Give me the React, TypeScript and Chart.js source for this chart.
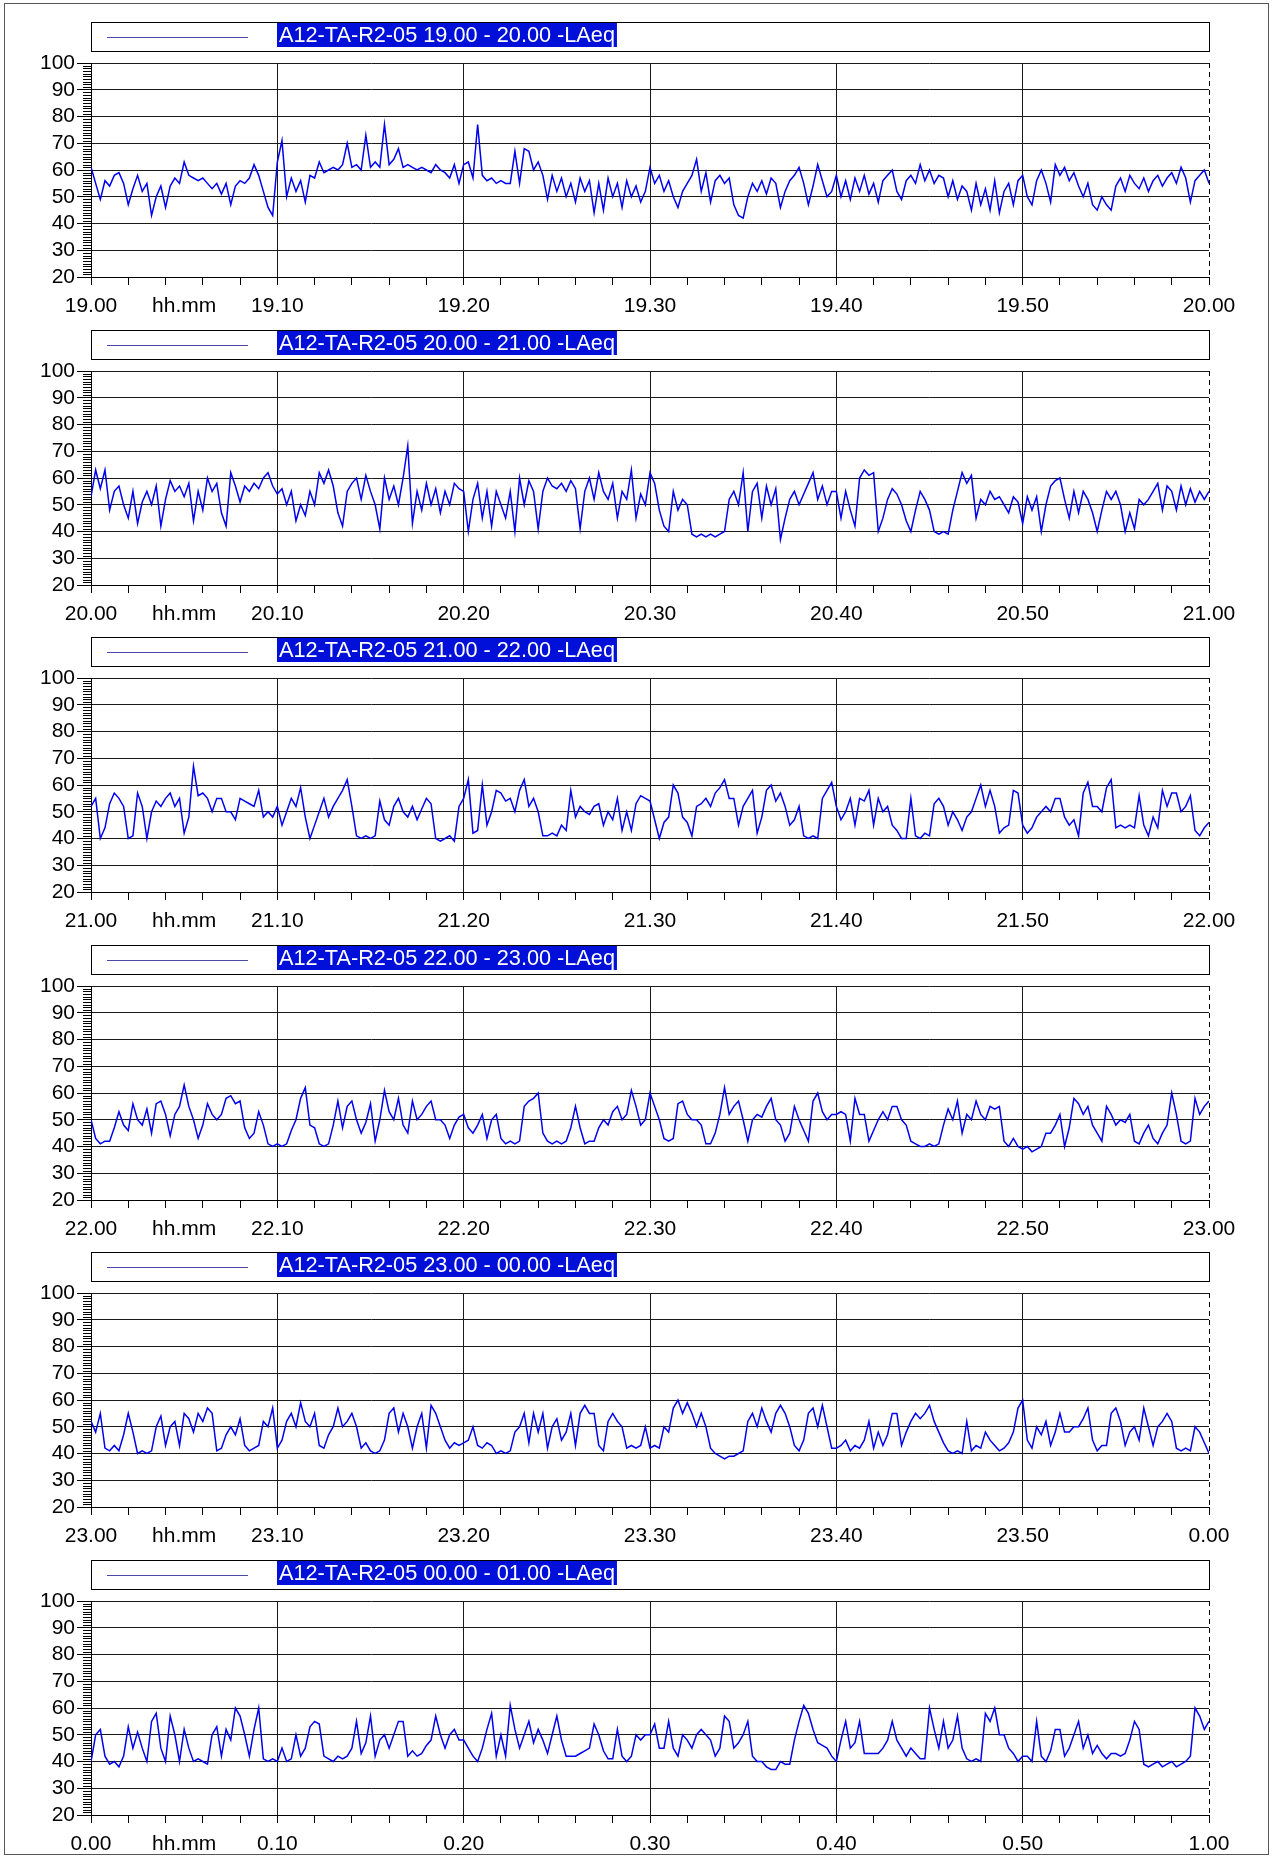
import React, { useEffect, useRef } from 'react';
import { Chart, registerables } from 'chart.js';

Chart.register(...registerables);

// ---- data: LAeq values (dB) sampled every 15 s, one array per hour ----
const SAMPLE_MINUTES = 0.25;
const startHours = [19, 20, 21, 22, 23, 0];
const seriesTitles = [
  'A12-TA-R2-05 19.00 - 20.00 -LAeq',
  'A12-TA-R2-05 20.00 - 21.00 -LAeq',
  'A12-TA-R2-05 21.00 - 22.00 -LAeq',
  'A12-TA-R2-05 22.00 - 23.00 -LAeq',
  'A12-TA-R2-05 23.00 - 00.00 -LAeq',
  'A12-TA-R2-05 00.00 - 01.00 -LAeq',
];
const xTickMinutes = [0, 2, 4, 5, 6, 8, 10, 12, 14, 16, 18, 20, 22, 24, 26, 28, 30, 32, 34, 36, 38, 40, 42, 44, 46, 48, 50, 52, 54, 56, 58, 60];
const hhmmLabelMinute = 5;
const yTickValues = [20, 30, 40, 50, 60, 70, 80, 90, 100];
const yMin = 20;
const yMax = 100;

const laeq1900 = [
  61, 55, 49, 56, 54, 58, 59, 55, 47, 53, 58, 52, 55, 43, 50, 54, 46, 54, 57, 55, 63, 58, 57, 56, 57, 55, 53, 55, 51, 55, 47, 54, 56, 55, 57, 62, 58, 52, 46, 43,
  63, 71, 50, 57, 52, 56, 48, 58, 57, 63, 59, 60, 61, 60, 62, 70, 61, 62, 60, 73, 61, 63, 61, 77, 62, 64, 68, 61, 62, 61, 60, 61, 60, 59, 62, 60, 59, 57, 62, 55,
  62, 63, 57, 77, 58, 56, 57, 55, 56, 55, 55, 67, 55, 68, 67, 60, 63, 58, 49, 58, 52, 57, 50, 55, 48, 57, 52, 56, 44, 55, 45, 57, 50, 55, 46, 56, 50, 54, 48, 52,
  61, 55, 58, 52, 56, 50, 46, 52, 55, 58, 64, 52, 59, 48, 56, 58, 55, 57, 47, 43, 42, 50, 55, 52, 56, 51, 57, 55, 46, 52, 56, 58, 61, 55, 47, 54, 62, 56, 50, 52,
  58, 50, 56, 49, 57, 52, 58, 51, 55, 48, 56, 58, 60, 52, 49, 56, 58, 55, 62, 56, 60, 55, 58, 57, 50, 56, 49, 54, 52, 45, 55, 47, 53, 45, 56, 44, 52, 55, 47, 56,
  58, 50, 47, 56, 60, 55, 48, 62, 58, 61, 56, 59, 54, 50, 55, 47, 45, 50, 47, 45, 54, 57, 52, 58, 55, 53, 57, 52, 56, 58, 54, 57, 59, 55, 61, 57, 48, 56, 58, 60,
  55,
];

const laeq2000 = [
  53, 63, 56, 63, 48, 55, 57, 50, 45, 55, 43, 51, 55, 50, 57, 42, 52, 59, 55, 57, 53, 58, 44, 55, 48, 60, 55, 58, 47, 42, 62, 57, 51, 57, 55, 58, 56, 60, 62, 57,
  54, 56, 50, 55, 44, 50, 46, 55, 50, 62, 58, 63, 57, 47, 42, 55, 58, 60, 52, 61, 55, 50, 41, 60, 52, 57, 50, 60, 72, 43, 55, 48, 58, 50, 56, 47, 55, 50, 58, 56,
  55, 40, 52, 58, 45, 55, 42, 55, 50, 45, 55, 40, 60, 50, 59, 55, 41, 55, 60, 57, 56, 58, 55, 59, 56, 41, 55, 60, 52, 62, 55, 52, 58, 45, 55, 52, 63, 45, 54, 50,
  62, 58, 48, 42, 40, 55, 48, 52, 50, 39, 38, 39, 38, 39, 38, 39, 40, 52, 55, 50, 62, 40, 55, 58, 45, 57, 50, 56, 37, 45, 52, 55, 50, 54, 58, 62, 52, 57, 50, 55,
  55, 45, 55, 48, 42, 60, 63, 61, 62, 40, 45, 52, 56, 54, 50, 44, 40, 48, 55, 52, 48, 40, 39, 40, 39, 48, 55, 62, 58, 61, 45, 52, 50, 55, 52, 53, 50, 47, 53, 51,
  43, 53, 48, 53, 40, 50, 57, 59, 60, 52, 45, 55, 47, 55, 52, 47, 40, 48, 55, 52, 55, 50, 40, 47, 41, 52, 50, 52, 55, 58, 48, 57, 55, 48, 57, 50, 56, 51, 55, 52,
  55,
];

const laeq2100 = [
  52, 55, 40, 44, 53, 57, 55, 52, 40, 41, 57, 52, 40, 50, 54, 52, 55, 57, 52, 55, 42, 48, 67, 56, 57, 55, 50, 55, 55, 50, 50, 47, 55, 54, 53, 52, 58, 48, 50, 48,
  52, 45, 50, 55, 52, 59, 48, 40, 45, 50, 55, 48, 52, 55, 58, 62, 52, 41, 40, 41, 40, 41, 54, 47, 45, 52, 55, 50, 48, 52, 47, 51, 55, 53, 40, 39, 40, 41, 39, 52,
  55, 62, 42, 43, 60, 45, 50, 58, 57, 54, 55, 50, 58, 62, 52, 55, 50, 41, 41, 42, 41, 45, 43, 58, 48, 52, 50, 49, 52, 53, 45, 50, 47, 55, 43, 50, 43, 53, 56, 55,
  54, 47, 40, 46, 48, 60, 57, 48, 46, 41, 52, 53, 55, 52, 57, 59, 62, 55, 55, 45, 52, 55, 58, 42, 48, 58, 60, 54, 57, 52, 45, 47, 52, 41, 40, 41, 40, 55, 58, 61,
  52, 47, 50, 55, 45, 55, 54, 58, 45, 55, 50, 52, 45, 43, 40, 40, 55, 41, 40, 42, 41, 53, 55, 52, 45, 50, 47, 43, 48, 50, 55, 60, 52, 58, 52, 42, 44, 45, 58, 57,
  45, 42, 44, 48, 50, 52, 50, 55, 55, 48, 45, 47, 41, 57, 61, 52, 52, 50, 59, 62, 44, 45, 44, 45, 44, 56, 45, 41, 48, 44, 58, 52, 57, 57, 50, 52, 56, 43, 41, 44,
  46,
];

const laeq2200 = [
  50, 43, 41, 42, 42, 47, 53, 48, 46, 56, 50, 48, 54, 45, 56, 57, 52, 44, 52, 55, 63, 55, 50, 43, 48, 56, 52, 50, 52, 58, 59, 56, 57, 47, 43, 45, 53, 48, 41, 40,
  41, 40, 41, 46, 50, 58, 62, 48, 47, 41, 40, 41, 48, 57, 47, 55, 57, 50, 45, 49, 56, 42, 50, 61, 53, 50, 58, 48, 45, 57, 50, 52, 55, 57, 50, 50, 48, 43, 48, 51,
  52, 47, 45, 48, 52, 43, 50, 52, 43, 41, 42, 41, 42, 55, 57, 58, 60, 45, 42, 41, 42, 41, 42, 47, 55, 47, 41, 42, 42, 47, 50, 48, 53, 55, 50, 52, 61, 55, 48, 50,
  60, 55, 50, 43, 42, 43, 56, 57, 52, 50, 50, 48, 41, 41, 45, 52, 62, 52, 55, 57, 50, 42, 50, 52, 51, 55, 58, 50, 48, 42, 45, 55, 50, 46, 42, 57, 60, 53, 50, 52,
  52, 53, 52, 42, 58, 52, 52, 42, 46, 50, 53, 50, 55, 55, 50, 48, 42, 41, 40, 40, 41, 40, 41, 48, 54, 50, 57, 45, 52, 50, 57, 52, 50, 55, 54, 55, 42, 40, 43, 40,
  39, 40, 38, 39, 40, 45, 45, 48, 52, 40, 47, 58, 56, 52, 55, 48, 45, 42, 55, 52, 48, 50, 49, 52, 42, 41, 45, 48, 43, 41, 45, 48, 60, 52, 42, 41, 42, 58, 52, 55,
  57,
];

const laeq2300 = [
  52, 48, 55, 42, 41, 43, 41, 47, 55, 48, 40, 41, 40, 41, 50, 54, 43, 50, 52, 43, 55, 53, 48, 55, 52, 57, 55, 41, 42, 47, 50, 47, 53, 43, 41, 42, 43, 52, 50, 57,
  42, 45, 52, 55, 50, 59, 52, 50, 55, 43, 42, 47, 50, 57, 50, 52, 55, 50, 42, 44, 41, 40, 41, 45, 55, 57, 48, 55, 50, 42, 50, 55, 42, 58, 55, 50, 45, 42, 44, 43,
  44, 45, 50, 43, 42, 44, 43, 40, 41, 40, 41, 48, 50, 55, 44, 55, 48, 55, 42, 50, 53, 45, 48, 55, 43, 55, 58, 55, 55, 43, 41, 52, 55, 52, 50, 42, 43, 42, 43, 50,
  42, 43, 42, 50, 48, 57, 60, 55, 59, 55, 50, 55, 50, 42, 40, 39, 38, 39, 39, 40, 41, 52, 55, 50, 57, 52, 48, 55, 58, 55, 50, 43, 41, 45, 55, 57, 50, 58, 50, 42,
  42, 43, 45, 41, 43, 42, 45, 52, 42, 48, 43, 47, 55, 55, 43, 48, 52, 55, 53, 55, 58, 52, 48, 44, 41, 40, 41, 40, 52, 41, 43, 42, 48, 45, 43, 41, 42, 44, 48, 57,
  60, 45, 42, 50, 47, 52, 43, 48, 55, 48, 48, 50, 50, 53, 57, 45, 41, 43, 43, 55, 57, 52, 43, 48, 50, 45, 57, 50, 43, 50, 52, 55, 52, 42, 41, 42, 41, 50, 48, 44,
  40,
];

const laeq0000 = [
  40, 50, 52, 42, 39, 40, 38, 42, 53, 45, 51, 45, 40, 55, 58, 45, 40, 57, 50, 40, 52, 45, 40, 41, 40, 39, 50, 53, 42, 52, 48, 60, 57, 50, 42, 52, 60, 41, 40, 41,
  40, 45, 40, 41, 50, 42, 45, 53, 55, 54, 42, 41, 40, 42, 41, 42, 45, 55, 43, 47, 57, 42, 48, 50, 45, 50, 55, 55, 42, 44, 42, 43, 46, 48, 57, 50, 45, 50, 52, 48,
  48, 45, 42, 40, 45, 52, 58, 42, 50, 42, 61, 52, 45, 50, 55, 47, 52, 48, 43, 50, 57, 48, 42, 42, 42, 43, 44, 45, 54, 50, 44, 41, 41, 52, 42, 40, 42, 50, 48, 50,
  50, 54, 45, 45, 55, 45, 42, 50, 48, 45, 50, 52, 50, 48, 42, 45, 57, 55, 45, 47, 50, 55, 42, 40, 40, 38, 37, 37, 40, 39, 39, 48, 55, 61, 58, 52, 47, 46, 45, 42,
  40, 48, 55, 45, 47, 55, 43, 43, 43, 43, 45, 48, 55, 48, 45, 42, 45, 43, 41, 41, 60, 52, 45, 55, 45, 48, 57, 45, 41, 40, 41, 40, 58, 55, 60, 50, 50, 45, 43, 40,
  42, 42, 40, 55, 42, 40, 44, 52, 52, 42, 45, 50, 55, 45, 50, 43, 46, 43, 41, 43, 43, 42, 43, 48, 55, 52, 39, 38, 39, 40, 38, 39, 40, 38, 39, 40, 42, 60, 57, 52,
  55,
];

const allSeries = [laeq1900, laeq2000, laeq2100, laeq2200, laeq2300, laeq0000];

// ---- styling ----
const FONT_FAMILY = '"Liberation Sans", Arial, Helvetica, sans-serif';
const FONT_SIZE = 21;
const LEGEND_FONT_SIZE = 21.7;
const LINE_COLOR = '#0000f0';
const GRID_COLOR = '#1a1a1a';
const HILITE_COLOR = '#0010d8';
const LEGEND_LINE_COLOR = '#4a4aa6';
const PANEL_PITCH = 307.5;
const CANVAS_W = 1274;
const CANVAS_H = 330;
const PLOT_TOP = 63;
const PLOT_BOTTOM = 277;
const PLOT_LEFT = 91;
const PLOT_RIGHT = 1209;
const X_AXIS_H = 48;

function fmtLabel(hour: number, v: number): string {
  if (v === hhmmLabelMinute) return 'hh.mm';
  if (v % 10 !== 0) return '';
  const hh = v === 60 ? (hour + 1) % 24 : hour;
  const mm = v === 60 ? 0 : v;
  return `${hh}.${String(mm).padStart(2, '0')}`;
}

function makeDecorPlugin(title: string) {
  return {
    id: 'decor',
    afterDraw(chart: any) {
      const { ctx, chartArea: ca, scales } = chart;
      const y = scales.y;
      ctx.save();
      // minor y ticks every 1 dB
      ctx.strokeStyle = '#000';
      ctx.lineWidth = 1;
      ctx.beginPath();
      for (let v = yMin + 1; v < yMax; v++) {
        if (yTickValues.includes(v)) continue;
        const py = Math.round(y.getPixelForValue(v)) + 0.5;
        ctx.moveTo(ca.left - 8, py);
        ctx.lineTo(ca.left, py);
      }
      ctx.stroke();
      // dashed right border
      const rx = Math.round(ca.right) + 0.5;
      ctx.setLineDash([5, 4]);
      ctx.beginPath();
      ctx.moveTo(rx, ca.top);
      ctx.lineTo(rx, ca.bottom);
      ctx.stroke();
      ctx.setLineDash([]);
      // legend box
      const bx = Math.round(ca.left) + 0.5;
      const bw = Math.round(ca.right - ca.left);
      ctx.strokeStyle = '#000';
      ctx.strokeRect(bx, 22.5, bw, 29);
      ctx.strokeStyle = LEGEND_LINE_COLOR;
      ctx.beginPath();
      ctx.moveTo(107, 37.5);
      ctx.lineTo(248, 37.5);
      ctx.stroke();
      ctx.font = `${LEGEND_FONT_SIZE}px ${FONT_FAMILY}`;
      const tw = ctx.measureText(title).width;
      ctx.fillStyle = HILITE_COLOR;
      ctx.fillRect(277, 23, tw + 4, 24);
      ctx.fillStyle = '#fff';
      ctx.textBaseline = 'alphabetic';
      ctx.textAlign = 'left';
      ctx.fillText(title, 279, 42);
      ctx.restore();
    },
  };
}

function Panel({ index }: { index: number }) {
  const ref = useRef<HTMLCanvasElement>(null);
  useEffect(() => {
    const canvas = ref.current;
    if (!canvas) return;
    const hour = startHours[index];
    const values = allSeries[index];
    const font = { family: FONT_FAMILY, size: FONT_SIZE };
    const chart = new Chart(canvas, {
      type: 'line',
      data: {
        datasets: [
          {
            data: values.map((v, i) => ({ x: i * SAMPLE_MINUTES, y: v })),
            borderColor: LINE_COLOR,
            borderWidth: 1.5,
            pointRadius: 0,
            tension: 0,
            fill: false,
          },
        ],
      },
      options: {
        responsive: false,
        animation: false,
        devicePixelRatio: 1,
        layout: {
          padding: {
            top: PLOT_TOP,
            right: CANVAS_W - PLOT_RIGHT,
            left: 0,
            bottom: CANVAS_H - PLOT_BOTTOM - X_AXIS_H,
          },
        },
        plugins: { legend: { display: false }, tooltip: { enabled: false }, title: { display: false } },
        scales: {
          x: {
            type: 'linear',
            min: 0,
            max: 60,
            afterBuildTicks: (s: any) => {
              s.ticks = xTickMinutes.map((v) => ({ value: v }));
            },
            afterFit: (s: any) => {
              s.height = X_AXIS_H;
              s.paddingLeft = 0;
              s.paddingRight = 0;
            },
            grid: {
              drawTicks: true,
              tickLength: 8,
              lineWidth: 1,
              color: (c: any) => {
                const v = c.tick ? c.tick.value : 0;
                return v % 10 === 0 && v !== 60 ? GRID_COLOR : 'rgba(0,0,0,0)';
              },
              tickColor: (c: any) => {
                const v = c.tick ? c.tick.value : 0;
                return v === hhmmLabelMinute ? 'rgba(0,0,0,0)' : '#000';
              },
            },
            border: { display: true, color: '#000', width: 1 },
            ticks: {
              autoSkip: false,
              maxRotation: 0,
              minRotation: 0,
              padding: 9,
              color: '#000',
              font,
              callback: (v: any) => fmtLabel(hour, Number(v)),
            },
          },
          y: {
            type: 'linear',
            min: yMin,
            max: yMax,
            afterBuildTicks: (s: any) => {
              s.ticks = yTickValues.map((v) => ({ value: v }));
            },
            afterFit: (s: any) => {
              s.width = PLOT_LEFT;
              s.paddingTop = 0;
              s.paddingBottom = 0;
            },
            grid: {
              drawTicks: true,
              tickLength: 14,
              lineWidth: 1,
              color: GRID_COLOR,
              tickColor: '#000',
            },
            border: { display: true, color: '#000', width: 1 },
            ticks: { autoSkip: false, padding: 2, color: '#000', font },
          },
        },
      } as any,
      plugins: [makeDecorPlugin(seriesTitles[index])],
    });
    return () => chart.destroy();
  }, [index]);
  return (
    <canvas
      ref={ref}
      width={CANVAS_W}
      height={CANVAS_H}
      style={{
        position: 'absolute',
        left: 0,
        top: Math.round(index * PANEL_PITCH),
        width: CANVAS_W,
        height: CANVAS_H,
      }}
    />
  );
}

export default function App() {
  useEffect(() => {
    document.body.style.margin = '0';
    document.body.style.background = '#fff';
  }, []);
  return (
    <div style={{ position: 'relative', width: 1274, height: 1858, background: '#fff', overflow: 'hidden' }}>
      <div
        style={{
          position: 'absolute',
          left: 4,
          top: 3,
          width: 1265,
          height: 1852,
          border: '1px solid #555',
          boxSizing: 'border-box',
        }}
      />
      {startHours.map((_, i) => (
        <Panel key={i} index={i} />
      ))}
    </div>
  );
}
